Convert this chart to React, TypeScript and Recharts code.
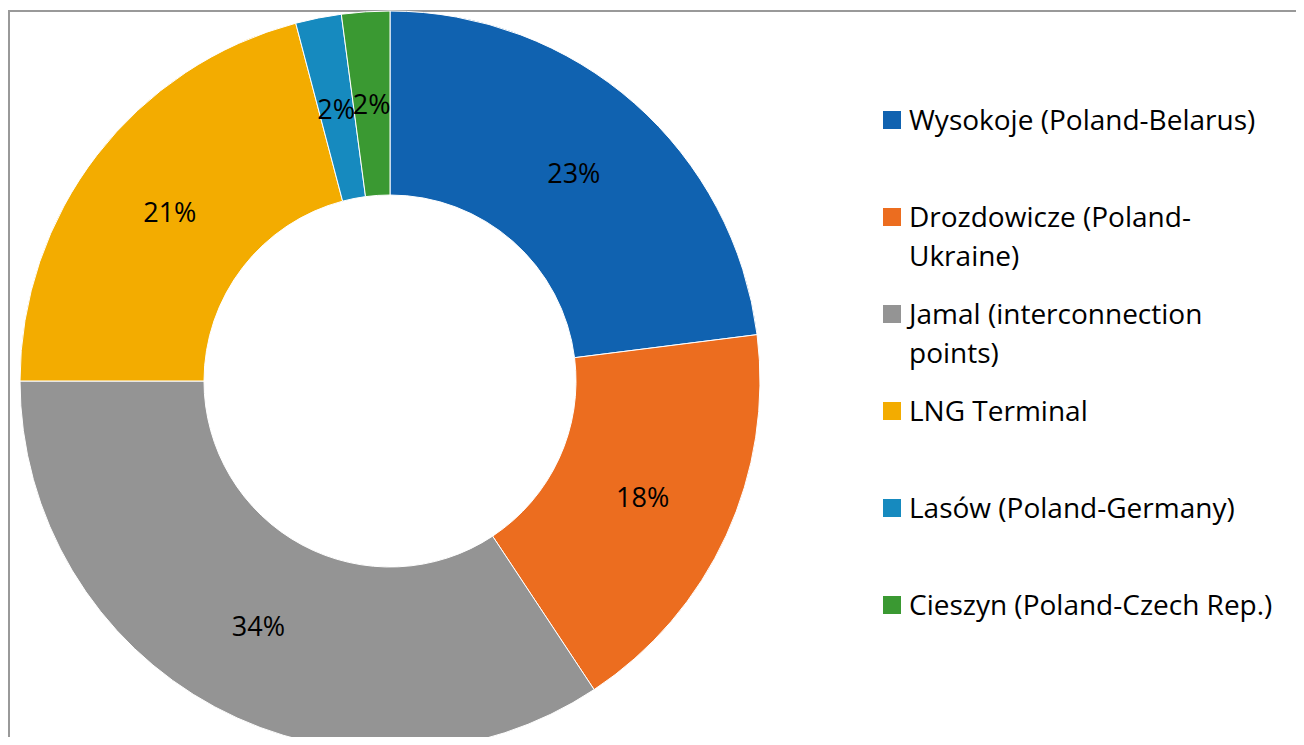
import { PieChart, Pie, Cell, Legend } from 'recharts'

const categories = [
  'Wysokoje (Poland-Belarus)',
  'Drozdowicze (Poland-Ukraine)',
  'Jamal (interconnection points)',
  'LNG Terminal',
  'Lasów (Poland-Germany)',
  'Cieszyn (Poland-Czech Rep.)',
]
const legendLines = [
  ['Wysokoje (Poland-Belarus)'],
  ['Drozdowicze (Poland-', 'Ukraine)'],
  ['Jamal (interconnection', 'points)'],
  ['LNG Terminal'],
  ['Lasów (Poland-Germany)'],
  ['Cieszyn (Poland-Czech Rep.)'],
]
const shares = [23.0, 17.7, 34.3, 20.9, 2.0, 2.1]
const colors = ['#1062B0', '#EC6D1F', '#949494', '#F3AC00', '#168ABF', '#3A9932']

const data = categories.map((name, i) => ({ name, value: shares[i] }))

const FONT = '"Open Sans", "Noto Sans", sans-serif'
const RAD = Math.PI / 180

function renderLabel(props: any) {
  const { cx, cy, midAngle, innerRadius, outerRadius, percent } = props
  const r = (innerRadius + outerRadius) / 2
  const x = cx + r * Math.cos(-midAngle * RAD)
  const y = cy + r * Math.sin(-midAngle * RAD)
  return (
    <text x={x} y={y} textAnchor="middle" dominantBaseline="central" fill="#000" fontSize={27} fontFamily={FONT}>
      {`${Math.round(percent * 100)}%`}
    </text>
  )
}

function renderLegend() {
  return (
    <div style={{ fontFamily: FONT, fontSize: 28, color: '#000' }}>
      {legendLines.map((lines, i) => (
        <div key={i} style={{ position: 'absolute', top: i * 97, left: 0, whiteSpace: 'nowrap' }}>
          {lines.map((ln, j) => (
            <div key={j} style={{ height: 39, lineHeight: '39px', display: 'flex', alignItems: 'center' }}>
              <span
                style={{
                  display: 'inline-block',
                  width: 18,
                  height: 18,
                  marginRight: 8,
                  background: j === 0 ? colors[i] : 'transparent',
                }}
              />
              {ln}
            </div>
          ))}
        </div>
      ))}
    </div>
  )
}

export default function App() {
  return (
    <div style={{ position: 'relative', margin: -8, width: 1304, height: 745, overflow: 'hidden', background: '#fff' }}>
      <div
        style={{
          position: 'absolute',
          left: 8,
          top: 10,
          width: 1296,
          height: 735,
          borderTop: '2px solid #999',
          borderLeft: '2px solid #999',
          boxSizing: 'border-box',
        }}
      />
      <PieChart
        width={1304}
        height={745}
        margin={{ top: 0, right: 0, bottom: 0, left: 0 }}
        style={{ position: 'absolute', left: 0, top: 0 }}
      >
        <Pie
          data={data}
          dataKey="value"
          nameKey="name"
          cx={390}
          cy={381}
          innerRadius={186}
          outerRadius={370}
          startAngle={90}
          endAngle={-270}
          stroke="#fff"
          strokeWidth={1}
          label={renderLabel}
          labelLine={false}
          isAnimationActive={false}
        >
          {data.map((d, i) => (
            <Cell key={d.name} fill={colors[i]} />
          ))}
        </Pie>
        <Legend
          content={renderLegend}
          wrapperStyle={{ position: 'absolute', left: 883, top: 100, width: 420, height: 560 }}
        />
      </PieChart>
    </div>
  )
}
